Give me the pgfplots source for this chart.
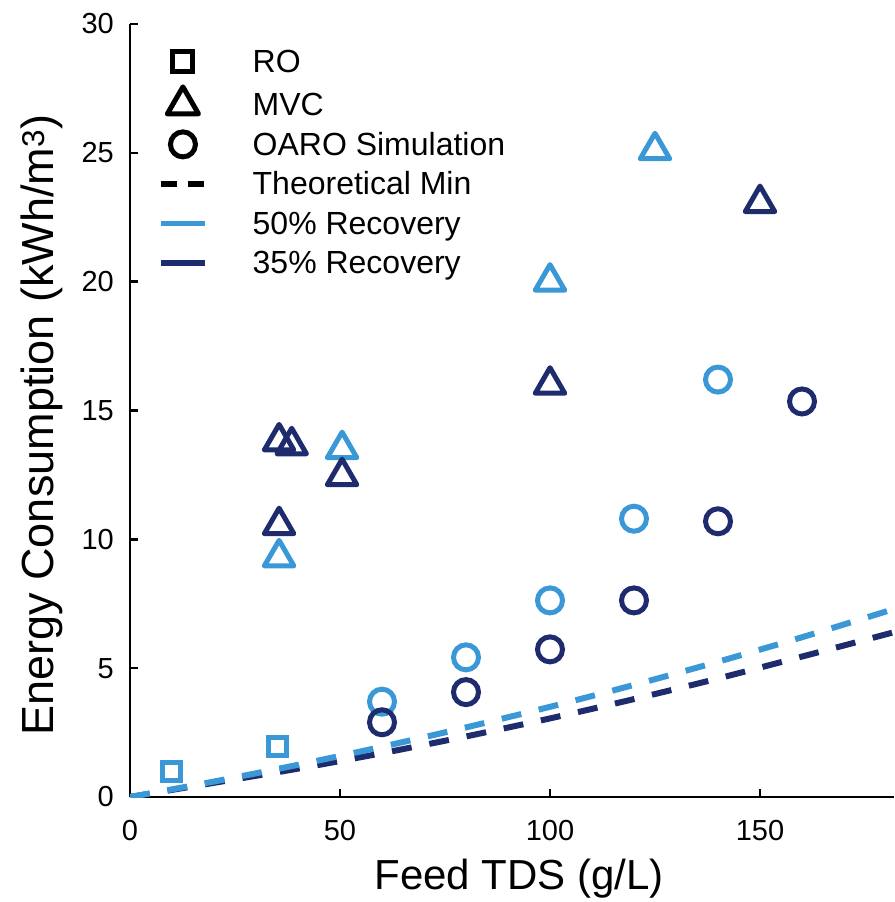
\documentclass[border=0pt]{standalone}
\usepackage{fontspec}
\setmainfont{Liberation Sans}
\usepackage{pgfplots}
\pgfplotsset{compat=1.18}
\definecolor{lightb}{RGB}{58,152,214}
\definecolor{darkb}{RGB}{30,44,110}
\begin{document}
\begin{tikzpicture}
\useasboundingbox (-130pt,-105pt) rectangle (764pt,797pt);
\begin{axis}[
  anchor=origin, at={(0pt,0pt)},
  x=4.2pt, y=25.7667pt,
  xmin=0, xmax=182, ymin=0, ymax=30,
  enlargelimits=false,
  axis lines=left,
  axis line style={-, line width=2.6pt, black},
  tick align=inside, major tick length=8pt,
  tick style={line width=2.6pt, black},
  xtick={0,50,100,150}, ytick={0,5,10,15,20,25,30},
  /pgf/number format/assume math mode=true,
  tick label style={font=\fontsize{29}{34}\selectfont, inner sep=0pt},
  xticklabel style={anchor=north, yshift=-23pt},
  yticklabel style={anchor=east, xshift=-16pt},
  xlabel={Feed TDS (g/L)},
  ylabel={Energy Consumption (kWh/m\textsuperscript{3})},
  xlabel style={at={(axis description cs:0.509,-0.1203)}, anchor=base, font=\fontsize{42}{48}\selectfont, inner sep=0pt},
  ylabel style={at={(axis description cs:-0.1,0.481)}, anchor=base, font=\fontsize{45}{52}\selectfont, inner sep=0pt},
  legend image code/.code={\draw[mark repeat=2,mark phase=2,#1] plot coordinates {(0pt,0pt) (22pt,0pt) (44pt,0pt)};},
  legend style={at={(axis description cs:0.0366,0.970)}, anchor=north west, draw=none, fill=none, inner sep=0pt,
    font=\fontsize{32}{38}\selectfont, column sep=43pt, row sep=11pt,
    cells={anchor=west, text height=23pt, text depth=6pt, inner ysep=0pt, inner xsep=0pt}},
  legend cell align=left,
]
% legend entries
\addlegendimage{only marks, mark=square, black, mark size=10pt, mark options={line width=5pt}}
\addlegendentry{RO}
\addlegendimage{only marks, mark=triangle, black, mark size=18pt, mark options={line width=5pt, line join=round}}
\addlegendentry{MVC}
\addlegendimage{only marks, mark=o, black, mark size=12.5pt, mark options={line width=5pt}}
\addlegendentry{OARO Simulation}
\addlegendimage{black, line width=5.5pt, dash pattern=on 16pt off 11pt}
\addlegendentry{Theoretical Min}
\addlegendimage{lightb, line width=5.5pt}
\addlegendentry{50\% Recovery}
\addlegendimage{darkb, line width=5.5pt}
\addlegendentry{35\% Recovery}

% theoretical minimum lines
\addplot[darkb, line width=6pt, dash pattern=on 20pt off 18pt, forget plot, smooth] coordinates {
(0,0) (20,0.55) (40,1.1) (60,1.7) (80,2.35) (100,3.05) (120,3.8) (140,4.6) (160,5.45) (182,6.4)};
\addplot[lightb, line width=6pt, dash pattern=on 20pt off 18pt, forget plot, smooth] coordinates {
(0,0) (20,0.6) (40,1.25) (60,1.95) (80,2.7) (100,3.5) (120,4.35) (140,5.25) (160,6.2) (182,7.3)};

% RO
\addplot[only marks, mark=square, lightb, mark size=9pt, mark options={line width=5pt}, forget plot] coordinates {
(10,1.0) (35,1.95)};
% MVC
\addplot[only marks, mark=triangle, lightb, mark size=17pt, mark options={line width=5pt, line join=round}, forget plot] coordinates {
(35.5,9.3) (50.5,13.5) (100,20.0) (125,25.1)};
\addplot[only marks, mark=triangle, darkb, mark size=17pt, mark options={line width=5pt, line join=round}, forget plot] coordinates {
(35.5,10.55) (35.5,13.8) (38.5,13.65) (50.5,12.45) (100,16.0) (150,23.05)};
% OARO
\addplot[only marks, mark=o, lightb, mark size=12.5pt, mark options={line width=5pt}, forget plot] coordinates {
(60,3.7) (80,5.42) (100,7.63) (120,10.8) (140,16.2)};
\addplot[only marks, mark=o, darkb, mark size=12.5pt, mark options={line width=5pt}, forget plot] coordinates {
(60,2.9) (80,4.07) (100,5.73) (120,7.63) (140,10.7) (160,15.35)};
\end{axis}
\end{tikzpicture}
\end{document}
